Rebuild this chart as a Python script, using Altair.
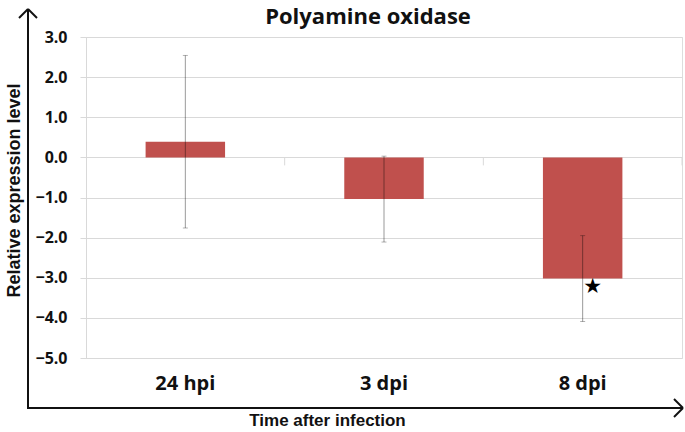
import altair as alt
import pandas as pd

categories = ["24 hpi", "3 dpi", "8 dpi"]
values = [0.39, -1.04, -3.02]
errors = [2.15, 1.07, 1.07]
star_category = ["8 dpi"]
star_value = [-3.23]
y_ticks = [3.0, 2.0, 1.0, 0.0, -1.0, -2.0, -3.0, -4.0, -5.0]
chart_title = ["Polyamine oxidase"]

df = pd.DataFrame({
    "cat": categories,
    "val": values,
    "lo": [v - e for v, e in zip(values, errors)],
    "hi": [v + e for v, e in zip(values, errors)],
})
star_df = pd.DataFrame({"cat": star_category, "val": star_value})
title_df = pd.DataFrame({"t": chart_title})
one = pd.DataFrame({"k": [0]})

W, H = 596, 321
BAR = "#c0504d"
GRID = "#d9d9d9"
FONT = "Open Sans"

x_enc = alt.X(
    "cat:N", sort=categories,
    scale=alt.Scale(paddingInner=0, paddingOuter=0),
    axis=alt.Axis(
        title="Time after infection", labelAngle=0, domain=False, ticks=False,
        tickSize=0, labelPadding=15, labelFont=FONT, labelFontWeight="bold",
        labelFontSize=20, labelColor="#111",
        titleFont="Liberation Sans", titleFontWeight="bold", titleFontSize=17,
        titleColor="#111", titleX=241, titleY=62, titleBaseline="middle",
        titleAlign="center",
    ),
)
y_scale = alt.Scale(domain=[-5, 3], nice=False, zero=False)
y_enc = alt.Y(
    "val:Q", scale=y_scale,
    axis=alt.Axis(
        values=y_ticks, format=".1f", grid=True, gridColor=GRID, gridWidth=1,
        domainColor=GRID, tickColor=GRID, tickSize=6, labelPadding=13,
        labelFont=FONT, labelFontWeight="bold", labelFontSize=16,
        labelColor="#111",
        title="Relative expression level", titleFont="Liberation Sans",
        titleFontWeight="bold", titleFontSize=18, titleColor="#111",
        titleAngle=-90, titleX=-72, titleY=153, titleBaseline="middle",
        titleAlign="center",
    ),
)

bars = alt.Chart(df).mark_bar(color=BAR, width={"band": 0.4}).encode(
    x=x_enc, y=y_enc, y2=alt.datum(0)
)

boundaries = alt.Chart(df).mark_rule(color=GRID, strokeWidth=1).encode(
    x=alt.X("cat:N", sort=categories, bandPosition=1),
    y=alt.datum(0), y2=alt.datum(-0.2),
)

err = alt.Chart(df).mark_rule(color="black", opacity=0.4, strokeWidth=1).encode(
    x=alt.X("cat:N", sort=categories), y=alt.Y("lo:Q", scale=y_scale), y2="hi:Q"
)
caps_lo = alt.Chart(df).mark_tick(color="black", opacity=0.3, size=5, thickness=1).encode(
    x=alt.X("cat:N", sort=categories), y=alt.Y("lo:Q", scale=y_scale)
)
caps_hi = alt.Chart(df).mark_tick(color="black", opacity=0.3, size=5, thickness=1).encode(
    x=alt.X("cat:N", sort=categories), y=alt.Y("hi:Q", scale=y_scale)
)

star = alt.Chart(star_df).mark_text(text="★", font="DejaVu Sans", fontSize=21,
                                    color="black", dx=10, baseline="middle").encode(
    x=alt.X("cat:N", sort=categories), y=alt.Y("val:Q", scale=y_scale)
)

title = alt.Chart(title_df).mark_text(font=FONT, fontWeight="bold", fontSize=22,
                                      color="#111", baseline="middle",
                                      align="center").encode(
    text="t:N", x=alt.value(282), y=alt.value(-20)
)

# Decorative arrow axes (pixel positions relative to the plot area)
def seg(x1, y1, x2, y2):
    return alt.Chart(one).mark_rule(color="#111", strokeWidth=2).encode(
        x=alt.value(x1), y=alt.value(y1), x2=alt.value(x2), y2=alt.value(y2)
    )

y_line = seg(-58, -28, -58, 372)
x_line = seg(-59, 371, 597, 371)
up_l = seg(-58, -28, -67, -19)
up_r = seg(-58, -28, -49, -19)
rt_u = seg(597, 371, 588, 362)
rt_d = seg(597, 371, 588, 380)

chart = alt.layer(
    bars, boundaries, err, caps_lo, caps_hi, star, title,
    y_line, x_line, up_l, up_r, rt_u, rt_d,
).properties(
    width=W, height=H,
    autosize=alt.AutoSizeParams(type="none"),
    padding={"left": 86, "top": 37, "right": 3, "bottom": 74},
).configure_view(stroke=None).configure(background="white")

chart.save("out.html", embed_options={"renderer": "svg", "actions": False})
